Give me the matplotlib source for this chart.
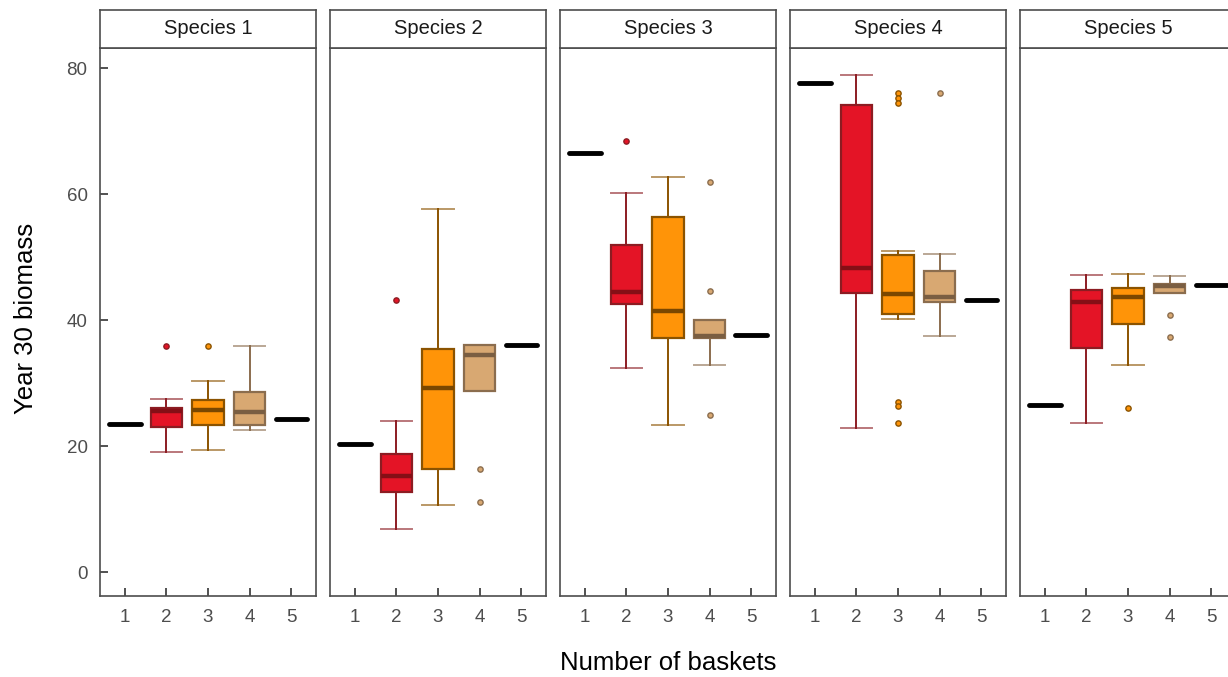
import numpy as np
import matplotlib

matplotlib.use('Agg')
import matplotlib.pyplot as plt

species = ["Species 1", "Species 2", "Species 3", "Species 4", "Species 5"]
baskets = [1, 2, 3, 4, 5]

# baskets 1 and 5 only have a single value per species
one_basket = [23.5, 20.3, 66.6, 77.6, 26.5]
five_baskets = [24.3, 36.1, 37.7, 43.2, 45.6]

# box summaries, rows = species, columns = baskets 2, 3, 4
whislo = [[19.0, 19.4, 22.6], [6.8, 10.7, 28.8], [32.4, 23.3, 32.9],
          [22.8, 40.1, 37.5], [23.6, 32.9, 44.3]]
q1 = [[23.1, 23.3, 23.3], [12.7, 16.3, 28.8], [42.6, 37.2, 37.1],
      [44.3, 41.0, 42.8], [35.6, 39.4, 44.3]]
med = [[25.5, 25.7, 25.4], [15.3, 29.2, 34.5], [44.4, 41.5, 37.4],
       [48.2, 44.2, 43.6], [42.8, 43.6, 45.4]]
q3 = [[26.1, 27.3, 28.6], [18.7, 35.4, 36.1], [52.0, 56.3, 40.0],
      [74.1, 50.3, 47.8], [44.8, 45.1, 45.7]]
whishi = [[27.4, 30.4, 35.9], [24.0, 57.6, 36.1], [60.2, 62.7, 40.0],
          [78.9, 50.9, 50.5], [47.2, 47.3, 47.0]]
fliers = [[[35.9], [35.9], []],
          [[43.2], [], [16.3, 11.1]],
          [[68.5], [], [62.0, 44.7, 25.0]],
          [[], [76.1, 75.3, 74.5, 27.0, 26.3, 23.6], [76.0]],
          [[], [26.1], [40.8, 37.3]]]

fills = ['#E41426', '#FF9408', '#D8A872']
edges = ['#8C1C22', '#8B5300', '#8B6D4E']
medians = ['#850F16', '#7A4700', '#7A5E42']

plt.rcParams['font.family'] = ['Liberation Sans', 'DejaVu Sans']
grey = '#4D4D4D'

fig = plt.figure(figsize=(12.28, 6.77), dpi=100)

W, H = 1228., 677.
left0, step, pw = 100 / W, 230 / W, 216 / W
bottom, ph = 1 - 596 / H, (596 - 48) / H
sh = 38 / H

for i, sp in enumerate(species):
    x0 = left0 + i * step
    ax = fig.add_axes([x0, bottom, pw, ph])
    sax = fig.add_axes([x0, bottom + ph, pw, sh])

    for j in range(3):
        st = [dict(med=med[i][j], q1=q1[i][j], q3=q3[i][j],
                   whislo=whislo[i][j], whishi=whishi[i][j], fliers=fliers[i][j])]
        ax.bxp(st, positions=[baskets[j + 1]], widths=0.75, capwidths=0.75,
               patch_artist=True, manage_ticks=False,
               boxprops=dict(facecolor=fills[j], edgecolor=edges[j], linewidth=1.6),
               medianprops=dict(color=medians[j], linewidth=3.2, solid_capstyle='butt'),
               whiskerprops=dict(color=edges[j], linewidth=1.4),
               capprops=dict(color=edges[j], linewidth=1.4, alpha=0.6),
               flierprops=dict(marker='o', markersize=3.8, markerfacecolor=fills[j],
                               markeredgecolor=edges[j], markeredgewidth=1.0))

    for xb, v in [(baskets[0], one_basket[i]), (baskets[4], five_baskets[i])]:
        ax.hlines(v, xb - 0.375, xb + 0.375, color='black', linewidth=3.5,
                  capstyle='round')

    ax.set_xlim(0.4, 5.6)
    ax.set_ylim(-3.8, 83.2)
    ax.set_xticks(baskets)
    ax.tick_params(axis='x', direction='in', length=6, width=1.2, color='#333333',
                   labelsize=13.5, labelcolor=grey, pad=9)
    if i == 0:
        ax.set_yticks([0, 20, 40, 60, 80])
        ax.tick_params(axis='y', direction='in', length=6, width=1.2, color='#333333',
                       labelsize=13.5, labelcolor=grey, pad=9)
    else:
        ax.set_yticks([])
    for s in ax.spines.values():
        s.set_color(grey)
        s.set_linewidth(1.2)

    sax.set_xticks([])
    sax.set_yticks([])
    for s in sax.spines.values():
        s.set_color(grey)
        s.set_linewidth(1.2)
    sax.text(0.5, 0.5, sp, ha='center', va='center', fontsize=14.5, color='#1A1A1A',
             transform=sax.transAxes)

fig.text(26 / W, 1 - 318 / H, "Year 30 biomass", rotation=90, ha='center', va='center',
         fontsize=18.5, color='black')
fig.text(668 / W, 1 - 663 / H, "Number of baskets", ha='center', va='center',
         fontsize=18.5, color='black')

plt.savefig('out.png', dpi=100)
